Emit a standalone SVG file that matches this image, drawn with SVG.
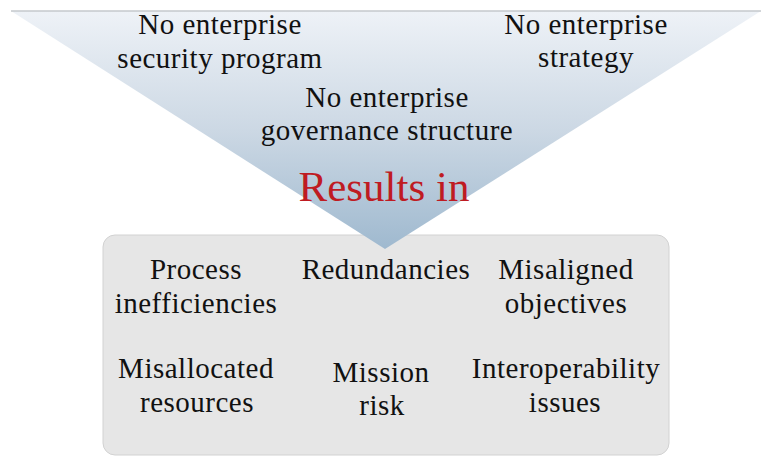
<svg xmlns="http://www.w3.org/2000/svg" width="766" height="457" viewBox="0 0 766 457">
  <defs>
    <linearGradient id="funnelFill" x1="0" y1="0" x2="0" y2="1">
      <stop offset="0" stop-color="#eef2f7"/>
      <stop offset="0.5" stop-color="#ccd8e4"/>
      <stop offset="1" stop-color="#9fb9cf"/>
    </linearGradient>
  </defs>
  <style>
    .lbl { font-family: "Liberation Serif", "Times New Roman", serif; font-size: 29px; fill: #111111; text-anchor: middle; letter-spacing: 0.5px; }
    .key { font-family: "Liberation Serif", "Times New Roman", serif; font-size: 43px; fill: #bf1b22; text-anchor: middle; }
    .box { fill: #e6e6e6; stroke: #d2d2d2; stroke-width: 1; }
  </style>
  <rect width="766" height="457" fill="#ffffff"/>

  <!-- outcomes panel -->
  <g id="outcomes">
    <rect class="box" x="103" y="235" width="566" height="220" rx="12" ry="12"/>
    <text class="lbl" x="196" y="279">Process</text>
    <text class="lbl" x="196" y="313">inefficiencies</text>
    <text class="lbl" x="386" y="279">Redundancies</text>
    <text class="lbl" x="566" y="279">Misaligned</text>
    <text class="lbl" x="566" y="313">objectives</text>
    <text class="lbl" x="196" y="378">Misallocated</text>
    <text class="lbl" x="197" y="412">resources</text>
    <text class="lbl" x="381" y="382">Mission</text>
    <text class="lbl" x="382" y="415">risk</text>
    <text class="lbl" x="566" y="378">Interoperability</text>
    <text class="lbl" x="565" y="412">issues</text>
  </g>

  <!-- causes funnel -->
  <g id="causes">
    <polygon points="11,11 761,11 385,249" fill="url(#funnelFill)"/>
    <line x1="11" y1="11" x2="761" y2="11" stroke="#c4c8cc" stroke-width="1.5"/>
    <text class="lbl" x="220" y="34">No enterprise</text>
    <text class="lbl" x="220" y="68">security program</text>
    <text class="lbl" x="586" y="34">No enterprise</text>
    <text class="lbl" x="586" y="67">strategy</text>
    <text class="lbl" x="387" y="107">No enterprise</text>
    <text class="lbl" x="387" y="140">governance structure</text>
  </g>

  <g id="link">
    <text class="key" x="384" y="201">Results in</text>
  </g>
</svg>
